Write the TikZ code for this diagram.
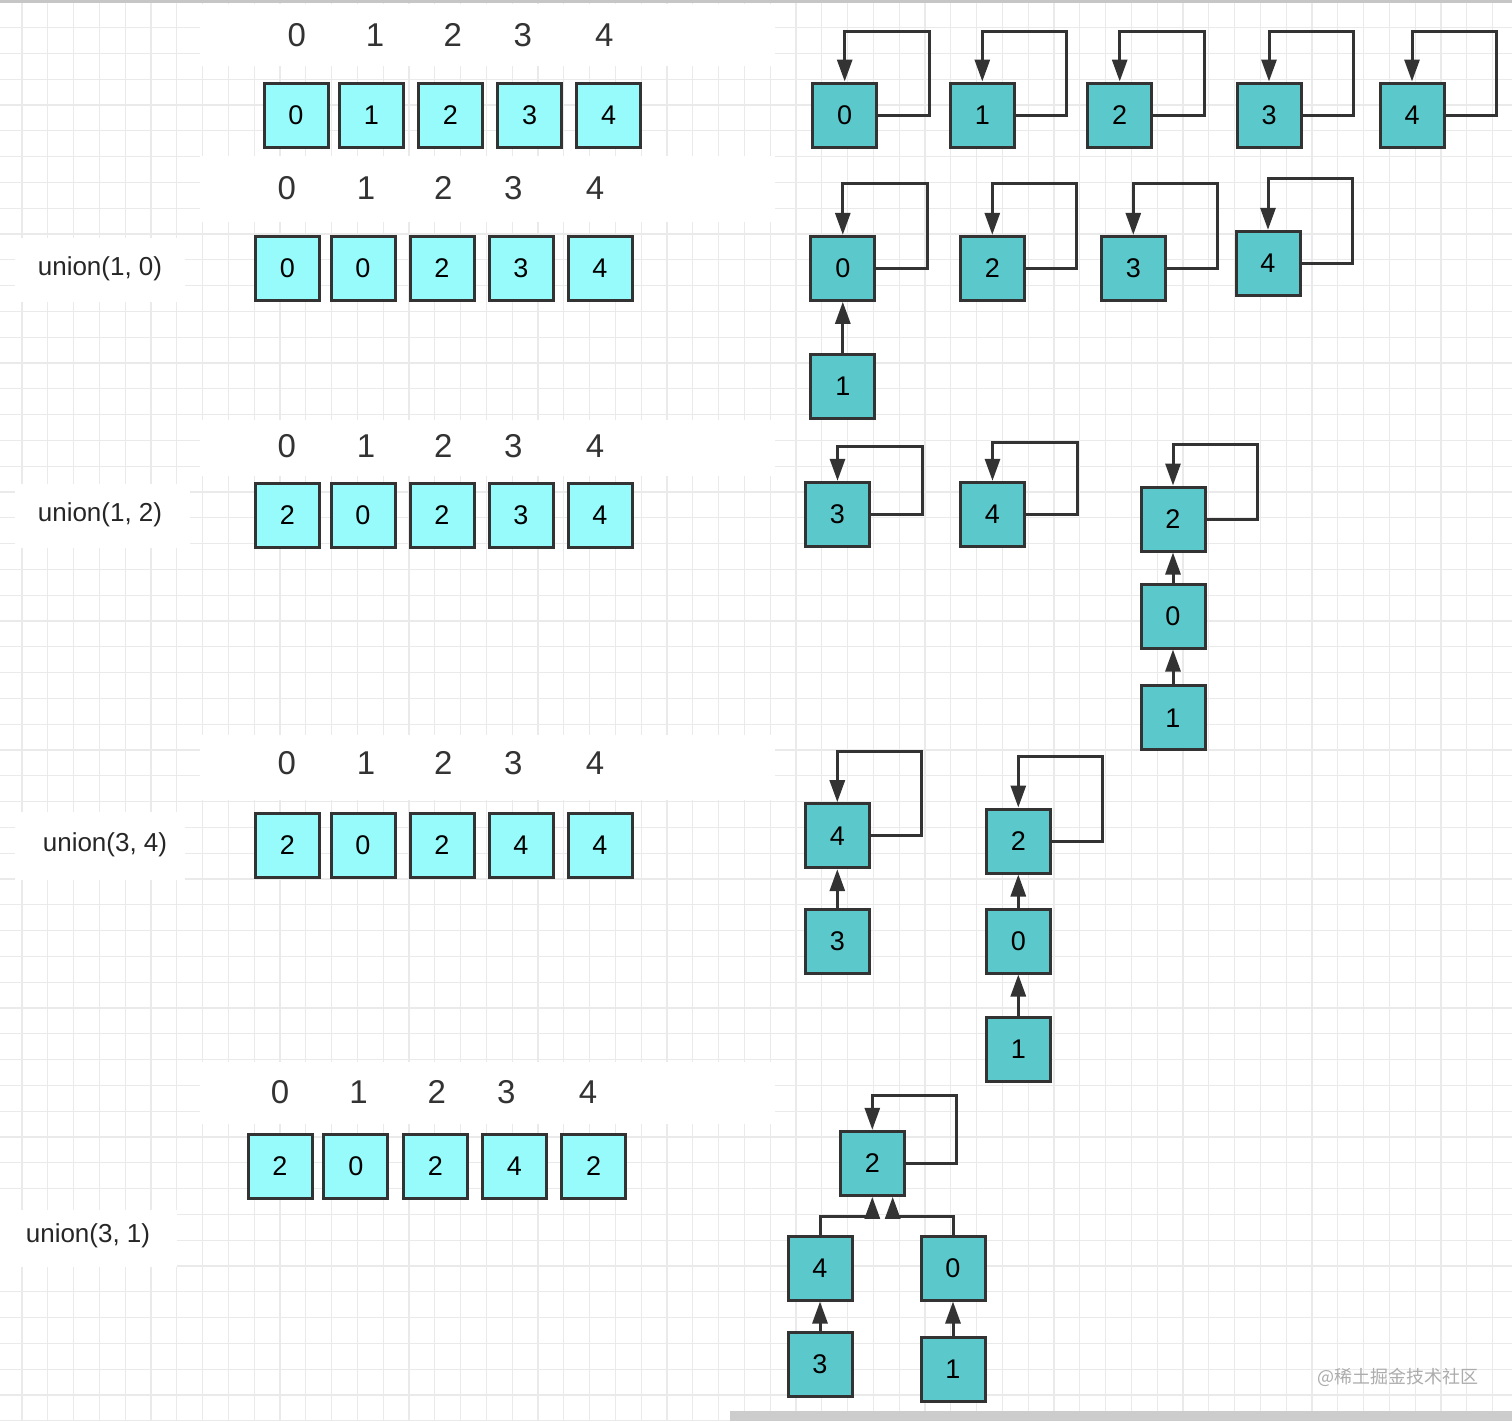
\documentclass[tikz,border=0pt]{standalone}
\usepackage{fontspec}
\setmainfont{Liberation Sans}
\newfontfamily\cjkfont{Noto Sans CJK SC}
\usetikzlibrary{arrows.meta}
\usepackage{xcolor}

\definecolor{cellcyan}{HTML}{98FBFB}
\definecolor{treeteal}{HTML}{5BC9CB}
\definecolor{inkgray}{HTML}{333333}
\definecolor{gridgray}{HTML}{EAEAEA}

% loop from a root back to itself: node, height above centre
\newcommand{\drawselfloop}[2]{\draw[link] (#1.east) -- ++(51,0) -- ++(0,-#2) -| (#1.north);}

\begin{document}
\begin{tikzpicture}[
    x=0.5pt, y=-0.5pt,
    cell/.style={rectangle, fill=cellcyan, draw=inkgray, line width=1.5pt, minimum size=32pt, inner sep=0pt, font=\fontsize{13.5}{13.5}\selectfont},
    tree node/.style={rectangle, fill=treeteal, draw=inkgray, line width=1.5pt, minimum size=32pt, inner sep=0pt, font=\fontsize{13.5}{13.5}\selectfont},
    index/.style={font=\fontsize{16.5}{16.5}\selectfont, text=inkgray},
    op label/.style={font=\fontsize{13}{13}\selectfont, text=black!85},
    link/.style={draw=inkgray, line width=1.5pt, -{Triangle[length=11pt, width=7.5pt]}},
    grid line/.style={draw=gridgray, line width=0.6pt},
    blank/.style={fill=white, draw=none}
]
    \useasboundingbox (0,0) rectangle (1512,1421);

    % Background
    \fill[white] (0,0) rectangle (1512,1421);
    \foreach \gx in {21.9,47.7,...,1512} \draw[grid line] (\gx,0) -- (\gx,1421);
    \foreach \gy in {1.8,27.6,...,1421} \draw[grid line] (0,\gy) -- (1512,\gy);
    \fill[blank] (200,4) rectangle (775,66);
    \fill[blank] (200,156) rectangle (775,222);
    \fill[blank] (200,420) rectangle (775,476);
    \fill[blank] (200,735) rectangle (775,800);
    \fill[blank] (200,1062) rectangle (775,1124);
    \fill[blank] (15,238) rectangle (185,302);
    \fill[blank] (15,484) rectangle (190,548);
    \fill[blank] (15,812) rectangle (185,880);
    \fill[blank] (0,1210) rectangle (177,1267);
    \fill[gray!45] (0,0) rectangle (1512,2.5);
    \fill[gray!40] (730,1411) rectangle (1512,1421);

    % Arrays
    \node[index] (iA0) at (296.7,35) {0};
    \node[index] (iA1) at (375,35) {1};
    \node[index] (iA2) at (452.7,35) {2};
    \node[index] (iA3) at (522.7,35) {3};
    \node[index] (iA4) at (604.3,35) {4};
    \node[cell] (A0) at (296,115) {0};
    \node[cell] (A1) at (371.3,115) {1};
    \node[cell] (A2) at (450.3,115) {2};
    \node[cell] (A3) at (529.7,115) {3};
    \node[cell] (A4) at (608.7,115) {4};

    \node[index] (iB0) at (286.7,188) {0};
    \node[index] (iB1) at (366,188) {1};
    \node[index] (iB2) at (443.3,188) {2};
    \node[index] (iB3) at (513.3,188) {3};
    \node[index] (iB4) at (595,188) {4};
    \node[op label] (opB) at (100,269) {union(1, 0)};
    \node[cell] (B0) at (287.3,268.3) {0};
    \node[cell] (B1) at (363,268.3) {0};
    \node[cell] (B2) at (442,268.3) {2};
    \node[cell] (B3) at (521,268.3) {3};
    \node[cell] (B4) at (600,268.3) {4};

    \node[index] (iC0) at (286.7,446) {0};
    \node[index] (iC1) at (366,446) {1};
    \node[index] (iC2) at (443.3,446) {2};
    \node[index] (iC3) at (513.3,446) {3};
    \node[index] (iC4) at (595,446) {4};
    \node[op label] (opC) at (100,515) {union(1, 2)};
    \node[cell] (C0) at (287.3,515) {2};
    \node[cell] (C1) at (363,515) {0};
    \node[cell] (C2) at (442,515) {2};
    \node[cell] (C3) at (521,515) {3};
    \node[cell] (C4) at (600,515) {4};

    \node[index] (iD0) at (286.7,763) {0};
    \node[index] (iD1) at (366,763) {1};
    \node[index] (iD2) at (443.3,763) {2};
    \node[index] (iD3) at (513.3,763) {3};
    \node[index] (iD4) at (595,763) {4};
    \node[op label] (opD) at (105,845) {union(3, 4)};
    \node[cell] (D0) at (287.3,845) {2};
    \node[cell] (D1) at (363,845) {0};
    \node[cell] (D2) at (442,845) {2};
    \node[cell] (D3) at (521,845) {4};
    \node[cell] (D4) at (600,845) {4};

    \node[index] (iE0) at (280,1092) {0};
    \node[index] (iE1) at (358.6,1092) {1};
    \node[index] (iE2) at (436.9,1092) {2};
    \node[index] (iE3) at (506.4,1092) {3};
    \node[index] (iE4) at (588,1092) {4};
    \node[op label] (opE) at (88,1236) {union(3, 1)};
    \node[cell] (E0) at (280,1166) {2};
    \node[cell] (E1) at (355.8,1166) {0};
    \node[cell] (E2) at (435.4,1166) {2};
    \node[cell] (E3) at (514.5,1166) {4};
    \node[cell] (E4) at (593.7,1166) {2};

    % Trees
    \node[tree node] (tA0) at (844.7,115) {0};
    \node[tree node] (tA1) at (982.3,115) {1};
    \node[tree node] (tA2) at (1119.7,115) {2};
    \node[tree node] (tA3) at (1269,115) {3};
    \node[tree node] (tA4) at (1412,115) {4};

    \node[tree node] (tB0) at (842.8,268.3) {0};
    \node[tree node] (tB1) at (842.8,386.7) {1};
    \node[tree node] (tB2) at (992.3,268.3) {2};
    \node[tree node] (tB3) at (1133.3,268.3) {3};
    \node[tree node] (tB4) at (1268,263.3) {4};

    \node[tree node] (tC3) at (837.5,514.3) {3};
    \node[tree node] (tC4) at (992.5,514.3) {4};
    \node[tree node] (tC2) at (1173,519) {2};
    \node[tree node] (tC0) at (1173,616) {0};
    \node[tree node] (tC1) at (1173,717.7) {1};

    \node[tree node] (tD4) at (837.3,835.7) {4};
    \node[tree node] (tD3) at (837.3,941) {3};
    \node[tree node] (tD2) at (1018.3,841) {2};
    \node[tree node] (tD0) at (1018.3,941) {0};
    \node[tree node] (tD1) at (1018.3,1049.3) {1};

    \node[tree node] (tE2) at (872.3,1163.3) {2};
    \node[tree node] (tE4) at (820,1268) {4};
    \node[tree node] (tE0) at (953,1268) {0};
    \node[tree node] (tE3) at (820,1364) {3};
    \node[tree node] (tE1) at (953,1369) {1};

    % Edges
    \drawselfloop{tA0}{84}
    \drawselfloop{tA1}{84}
    \drawselfloop{tA2}{84}
    \drawselfloop{tA3}{84}
    \drawselfloop{tA4}{84}

    \drawselfloop{tB0}{85}
    \drawselfloop{tB2}{85}
    \drawselfloop{tB3}{85}
    \drawselfloop{tB4}{85}
    \draw[link] (tB1) -- (tB0);

    \drawselfloop{tC3}{67.6}
    \drawselfloop{tC4}{71.6}
    \drawselfloop{tC2}{74.3}
    \draw[link] (tC0) -- (tC2);
    \draw[link] (tC1) -- (tC0);

    \drawselfloop{tD4}{84}
    \drawselfloop{tD2}{84.3}
    \draw[link] (tD3) -- (tD4);
    \draw[link] (tD0) -- (tD2);
    \draw[link] (tD1) -- (tD0);

    \drawselfloop{tE2}{67.6}
    \draw[link] (tE4.north) -- ++(0,-17.6) -| (tE2.south);
    \draw[link] (tE0.north) -- ++(0,-17.6) -| ([xshift=10.2pt]tE2.south);
    \draw[link] (tE3) -- (tE4);
    \draw[link] (tE1) -- (tE0);

    % Watermark
    \node[font=\cjkfont\fontsize{9}{9}\selectfont, text=gray!65] (mark) at (1398,1377) {@稀土掘金技术社区};
\end{tikzpicture}
\end{document}
